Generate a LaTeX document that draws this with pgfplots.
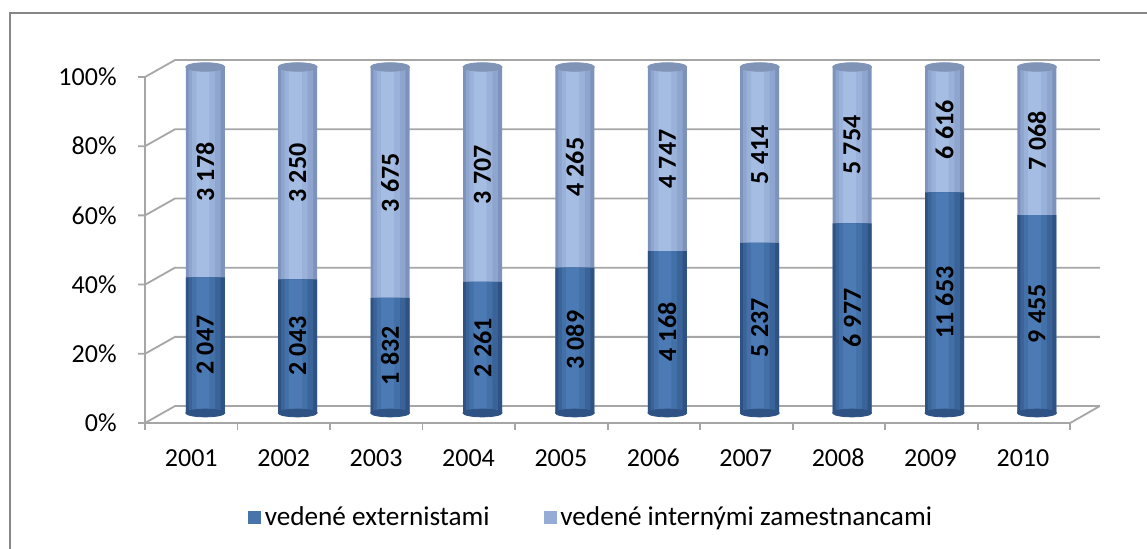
\documentclass[border=0pt]{standalone}
\usepackage{pgfplots}
\pgfplotsset{compat=1.18}
\usepackage{pgfplotstable}
\usepackage{fontspec}
\setmainfont{Carlito}
\definecolor{dkA}{HTML}{2E5283}
\definecolor{dkB}{HTML}{3A6499}
\definecolor{dkC}{HTML}{4470A8}
\definecolor{dkD}{HTML}{4C7AB4}
\definecolor{ltA}{HTML}{7D93BB}
\definecolor{ltB}{HTML}{8EA6CF}
\definecolor{ltC}{HTML}{9AB2DA}
\definecolor{ltD}{HTML}{A5BDE2}
\definecolor{capc}{HTML}{8094B8}
\definecolor{gridc}{HTML}{A6A6A6}
\definecolor{framec}{HTML}{868686}
\definecolor{legdk}{HTML}{4774AA}
\definecolor{leglt}{HTML}{94ACD6}
\pgfplotstableread{
x ext int
0 2047 3178
1 2043 3250
2 1832 3675
3 2261 3707
4 3089 4265
5 4168 4747
6 5237 5414
7 6977 5754
8 11653 6616
9 9455 7068
}\datatable
\pgfplotsset{
  cyl/.style n args={3}{forget plot, ybar, bar width=#1, bar shift=#2, draw=none, fill=#3},
}
\begin{document}
\begin{tikzpicture}[font=\fontsize{13}{15}\selectfont]
\useasboundingbox (0,0) rectangle (573.5pt,-274.5pt);
\draw[framec, line width=1pt] (5pt,-274.5pt) -- (5pt,-6.5pt) -- (573.5pt,-6.5pt);
\begin{axis}[
  at={(80pt,-206.5pt)}, anchor=south west,
  scale only axis, width=462.5pt, height=173pt,
  xmin=-0.49, xmax=9.52, ymin=0, ymax=100,
  clip=false,
  axis line style={draw=none},
  tick style={draw=none},
  xtick={0,...,9},
  xticklabels={2001,2002,2003,2004,2005,2006,2007,2008,2009,2010},
  xticklabel style={anchor=center, inner sep=0pt, xshift=-7pt, yshift=-22.5pt},
  ytick={0,20,40,60,80,100},
  yticklabels={0\%,20\%,40\%,60\%,80\%,100\%},
  yticklabel style={anchor=east, inner sep=0pt, xshift=-21.5pt, yshift=-5pt},
  legend style={at={(0.467,-0.303)}, anchor=center, draw=none, fill=none,
    legend columns=2, font=\fontsize{13.6}{15}\selectfont,
    /tikz/every even column/.append style={column sep=25pt},
    legend cell align=left},
]
\addlegendimage{legend image code/.code={\fill[legdk] (0pt,-3pt) rectangle (6pt,3pt);}}
\addlegendentry{vedené externistami}
\addlegendimage{legend image code/.code={\fill[leglt] (0pt,-3pt) rectangle (6pt,3pt);}}
\addlegendentry{vedené internými zamestnancami}
% 3D frame and gridlines
\pgfplotsinvokeforeach{0,20,40,60,80,100}{
  \draw[gridc, line width=0.9pt] (axis cs:-0.728,#1-2.89) -- (axis cs:-0.652,#1-2.89) -- (axis cs:-0.328,#1+2.0) -- (axis cs:9.68,#1+2.0);
}
\draw[gridc, line width=0.9pt] (axis cs:-0.652,97.11) -- (axis cs:-0.652,-2.89) -- (axis cs:9.36,-2.89) -- (axis cs:9.68,2.0);
\pgfplotsinvokeforeach{0,...,10}{
  \draw[gridc, line width=0.9pt] (axis cs:-0.652+#1*1.0012,-2.89) -- (axis cs:-0.652+#1*1.0012,-4.9);
}
% light cylinders (full height)
\addplot[cyl={19.5pt}{0pt}{ltA}] table[x=x, y expr=100] {\datatable};
\addplot[cyl={16pt}{-0.3pt}{ltB}] table[x=x, y expr=100] {\datatable};
\addplot[cyl={11.5pt}{-0.8pt}{ltC}] table[x=x, y expr=100] {\datatable};
\addplot[cyl={6.5pt}{-1.2pt}{ltD}] table[x=x, y expr=100] {\datatable};
% dark cylinders
\addplot[cyl={19.5pt}{0pt}{dkA}] table[x=x, y expr={100*\thisrow{ext}/(\thisrow{ext}+\thisrow{int})}] {\datatable};
\addplot[cyl={16pt}{-0.3pt}{dkB}] table[x=x, y expr={100*\thisrow{ext}/(\thisrow{ext}+\thisrow{int})}] {\datatable};
\addplot[cyl={11.5pt}{-0.8pt}{dkC}] table[x=x, y expr={100*\thisrow{ext}/(\thisrow{ext}+\thisrow{int})}] {\datatable};
\addplot[cyl={6.5pt}{-1.2pt}{dkD}] table[x=x, y expr={100*\thisrow{ext}/(\thisrow{ext}+\thisrow{int})}] {\datatable};
% caps
\addplot[forget plot, only marks, color=dkA, mark=*, mark size=9.75pt,
  mark options={yscale=0.2, fill=dkA, draw=dkA}]
  table[x=x, y expr=0] {\datatable};
\addplot[forget plot, only marks, color=capc, mark=*, mark size=9.75pt,
  mark options={yscale=0.22, fill=capc, draw=capc}]
  table[x=x, y expr=100] {\datatable};
% labels
\addplot[forget plot, only marks, mark size=0pt, mark options={draw=none,fill=none},
  point meta=explicit,
  nodes near coords={\pgfmathprintnumber[fixed,precision=0,1000 sep={\kern0.25em},assume math mode=true]{\pgfplotspointmeta}},
  every node near coord/.append style={anchor=center, rotate=90, font=\fontsize{13}{15}\selectfont\bfseries, text=black}]
  table[x=x, y expr={50*\thisrow{ext}/(\thisrow{ext}+\thisrow{int})}, meta=ext] {\datatable};
\addplot[forget plot, only marks, mark size=0pt, mark options={draw=none,fill=none},
  point meta=explicit,
  nodes near coords={\pgfmathprintnumber[fixed,precision=0,1000 sep={\kern0.25em},assume math mode=true]{\pgfplotspointmeta}},
  every node near coord/.append style={anchor=center, rotate=90, font=\fontsize{13}{15}\selectfont\bfseries, text=black}]
  table[x=x, y expr={50+50*\thisrow{ext}/(\thisrow{ext}+\thisrow{int})}, meta=int] {\datatable};
\end{axis}
\end{tikzpicture}
\end{document}
